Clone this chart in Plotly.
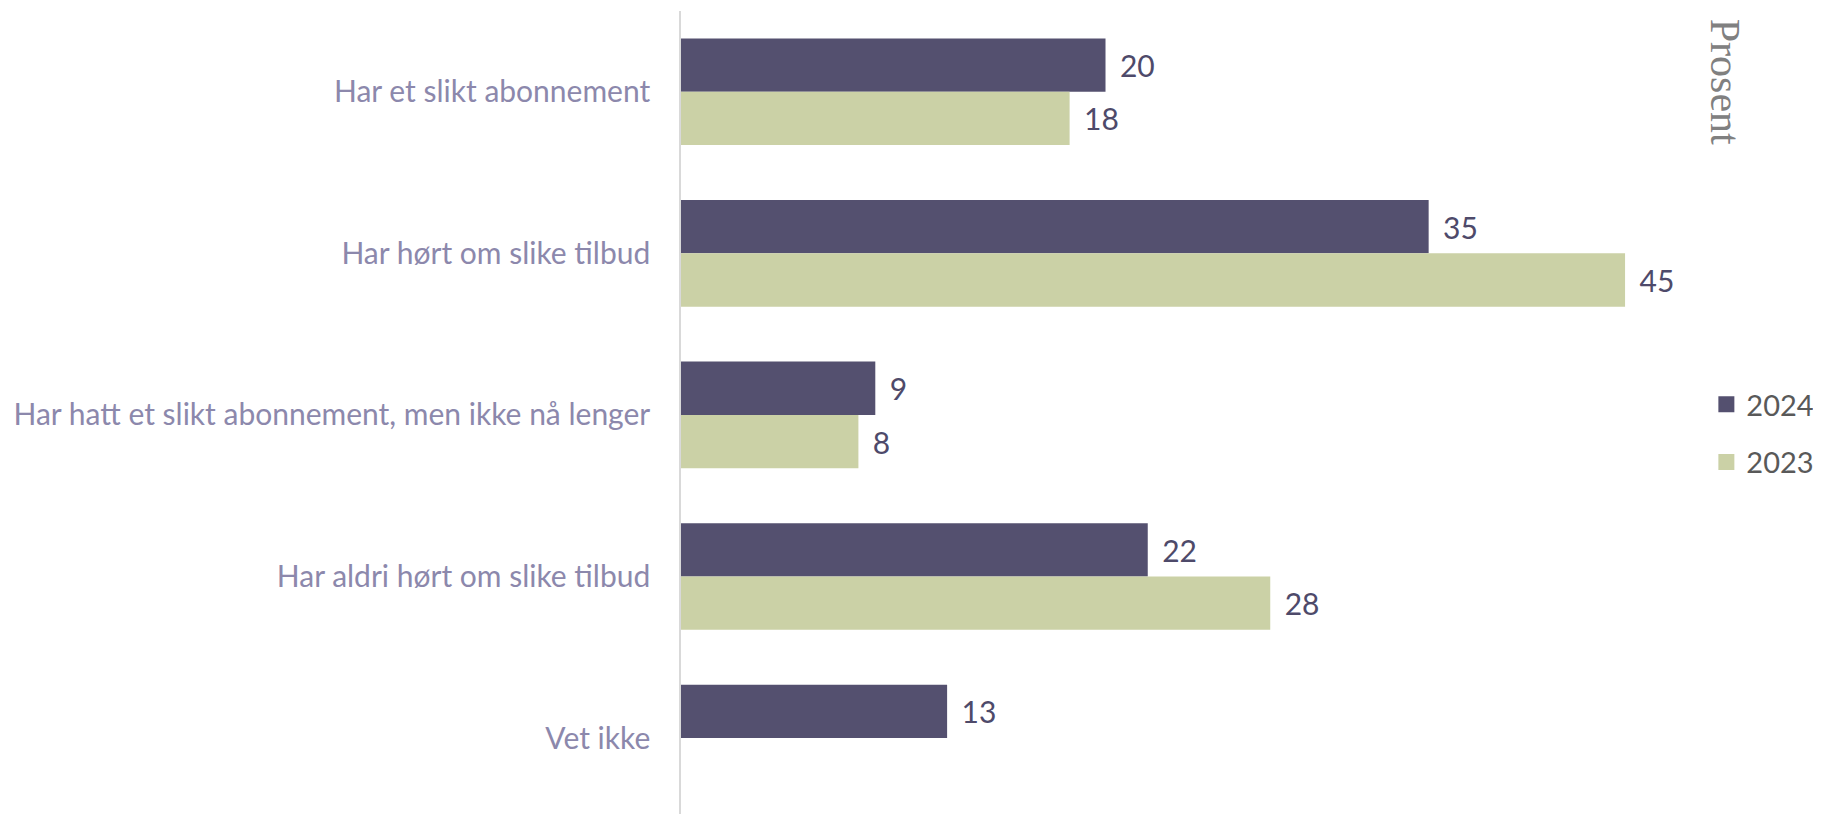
import plotly.graph_objects as go

categories = [
    "Har et slikt abonnement",
    "Har hørt om slike tilbud",
    "Har hatt et slikt abonnement, men ikke nå lenger",
    "Har aldri hørt om slike tilbud",
    "Vet ikke",
]
series_names = ["2024", "2023"]
values_2024 = [20.1, 35.4, 9.2, 22.1, 12.6]
values_2023 = [18.4, 44.7, 8.4, 27.9, None]
axis_title = "Prosent"

DARK = "#54506F"
GREEN = "#CBD1A6"
LABEL_DARK = "#4E4A6A"
CAT_COLOR = "#8C88AC"
FONT = "Lato, Calibri, Carlito, sans-serif"

fig = go.Figure()
for name, vals, col in [(series_names[0], values_2024, DARK), (series_names[1], values_2023, GREEN)]:
    fig.add_trace(go.Bar(
        y=categories, x=vals, orientation="h", name=name,
        marker=dict(color=col, line=dict(width=0)),
        texttemplate="\u00a0\u2009%{x:.0f}", textposition="outside",
        textfont=dict(family=FONT, size=30, color=LABEL_DARK),
        constraintext="none", cliponaxis=False, showlegend=False,
        hoverinfo="x+y",
    ))
# legend entries
for name, col in [(series_names[0], DARK), (series_names[1], GREEN)]:
    fig.add_trace(go.Scatter(
        x=[None], y=[None], mode="markers", name=name, legendgroup=name,
        marker=dict(symbol="square", size=16, color=col),
    ))

# page body has an 8px margin, so the figure is sized/offset to fit the 1821x814 window
fig.update_layout(
    width=1813, height=806,
    margin=dict(l=673, r=84, t=3, b=0, autoexpand=False),
    paper_bgcolor="white", plot_bgcolor="white",
    barmode="group", bargap=0.34, bargroupgap=0,
    font=dict(family=FONT),
    showlegend=True,
    legend=dict(
        x=1.078, xanchor="right", y=0.474, yanchor="middle",
        font=dict(family=FONT, size=29, color="#595959"),
        traceorder="grouped", tracegroupgap=17,
        bgcolor="rgba(0,0,0,0)",
    ),
    xaxis=dict(
        range=[0, 50], showgrid=False, zeroline=False, showticklabels=False,
        showline=False, ticks="", fixedrange=True, automargin=False,
    ),
    yaxis=dict(
        categoryorder="array", categoryarray=categories,
        range=[4.47, -0.5], showgrid=False, zeroline=False,
        showline=True, linecolor="#D9D9D9", linewidth=1.5,
        ticks="outside", ticklen=23, tickcolor="rgba(0,0,0,0)",
        tickfont=dict(family=FONT, size=30, color=CAT_COLOR),
        automargin=False,
    ),
    annotations=[dict(
        text=axis_title, textangle=90, xref="paper", yref="paper",
        x=0.9886, y=0.912, xanchor="center", yanchor="middle", showarrow=False,
        font=dict(family="Liberation Serif, Times New Roman, serif", size=42, color="#808080"),
    )],
)

fig.write_html("out.html")
